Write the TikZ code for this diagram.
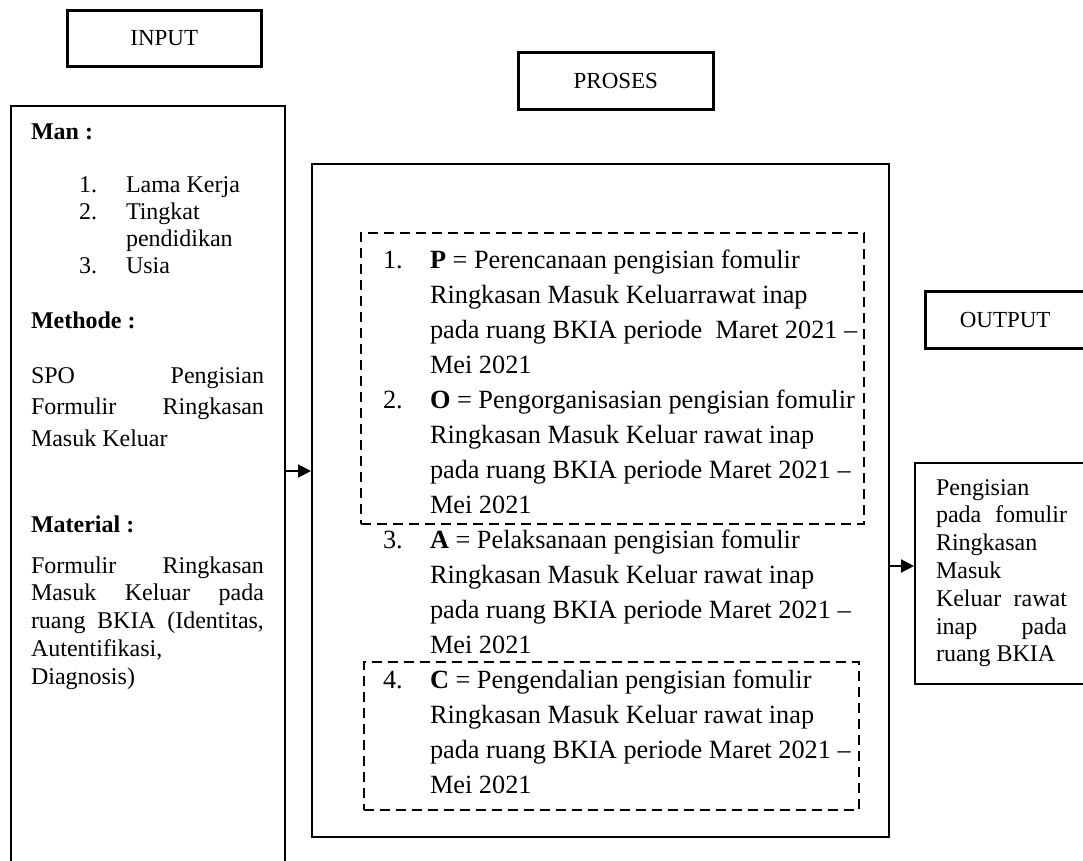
\documentclass[tikz,border=0pt]{standalone}
\usepackage{fontspec}
\setmainfont{Liberation Serif}
\usetikzlibrary{arrows.meta}
\newcommand{\blok}[2]{\begin{minipage}[t]{#1}#2\end{minipage}}

\begin{document}
\begin{tikzpicture}[x=1pt,y=-1pt,line width=2pt,>={Triangle[length=13pt,width=13pt]},
    box/.style={draw,rectangle,anchor=north west,inner sep=0pt},
    labelbox/.style={box,line width=2.6pt,font=\fontsize{23}{27}\selectfont},
    dashbox/.style={box,line width=1.8pt,dash pattern=on 10pt off 6pt},
    txt/.style={anchor=base west,inner sep=0pt,font=\fontsize{24}{27}\selectfont},
    proc/.style={txt,font=\fontsize{26.3}{35}\selectfont}]
  \useasboundingbox (0,0) rectangle (1083,861);
  \clip (0,0) rectangle (1083,861);
  % judul
  \node[labelbox,minimum width=194pt,minimum height=56pt] (input) at (66,9) {INPUT};
  \node[labelbox,minimum width=195pt,minimum height=57pt] (proses) at (517,51) {PROSES};
  \node[labelbox,minimum width=200pt,minimum height=57pt,text width=159pt,align=left] (output) at (924,290) {\hspace*{14pt}OUTPUT};
  % kotak input
  \node[box,minimum width=274pt,minimum height=780pt] (inbox) at (10,105) {};
  \node[txt] (man) at (30,140) {\textbf{Man :}};
  \node[txt] (man1) at (78,193) {1.};
  \node[txt] (man1t) at (125,193) {Lama Kerja};
  \node[txt] (man2) at (78,219) {2.};
  \node[txt] (man2t) at (125,219) {\blok{140pt}{Tingkat\\pendidikan}};
  \node[txt] (man3) at (78,273) {3.};
  \node[txt] (man3t) at (125,273) {Usia};
  \node[txt] (methode) at (30,328) {\textbf{Methode :}};
  \node[txt,font=\fontsize{24}{31.5}\selectfont] (methodet) at (30,383)
    {\blok{233pt}{SPO\hfill Pengisian\\Formulir\hfill Ringkasan\\Masuk Keluar}};
  \node[txt] (material) at (30,532) {\textbf{Material :}};
  \node[txt,font=\fontsize{24}{27.8}\selectfont] (materialt) at (30,573)
    {\blok{233pt}{Formulir\hfill Ringkasan\\Masuk\hfill Keluar\hfill pada\\ruang\hfill BKIA\hfill (Identitas,\\Autentifikasi,\\Diagnosis)}};
  % kotak proses
  \node[box,minimum width=577pt,minimum height=673pt] (procbox) at (311,163) {};
  \node[dashbox,minimum width=503pt,minimum height=291pt] (poa) at (360,232) {};
  \node[dashbox,minimum width=495pt,minimum height=148pt] (pc) at (363,661) {};
  \node[proc] (p1) at (382,268) {1.};
  \node[proc] (p1t) at (429,268) {\blok{440pt}{\textbf{P} = Perencanaan pengisian fomulir\\Ringkasan Masuk Keluarrawat inap\\pada ruang BKIA periode\ \ Maret 2021 –\\Mei 2021}};
  \node[proc] (p2) at (382,408) {2.};
  \node[proc] (p2t) at (429,408) {\blok{440pt}{\textbf{O} = Pengorganisasian pengisian fomulir\\Ringkasan Masuk Keluar rawat inap\\pada ruang BKIA periode Maret 2021 –\\Mei 2021}};
  \node[proc] (p3) at (382,548) {3.};
  \node[proc] (p3t) at (429,548) {\blok{440pt}{\textbf{A} = Pelaksanaan pengisian fomulir\\Ringkasan Masuk Keluar rawat inap\\pada ruang BKIA periode Maret 2021 –\\Mei 2021}};
  \node[proc] (p4) at (382,688) {4.};
  \node[proc] (p4t) at (429,688) {\blok{440pt}{\textbf{C} = Pengendalian pengisian fomulir\\Ringkasan Masuk Keluar rawat inap\\pada ruang BKIA periode Maret 2021 –\\Mei 2021}};
  % kotak output
  \node[box,minimum width=181pt,minimum height=221pt] (outbox) at (914,462) {};
  \node[txt,font=\fontsize{24}{27.8}\selectfont] (outt) at (935,495)
    {\blok{131pt}{Pengisian\\pada\hfill fomulir\\Ringkasan\\Masuk\\Keluar\hfill rawat\\inap\hfill pada\\ruang BKIA}};
  % panah
  \coordinate (inarr) at (0,471);
  \coordinate (outarr) at (0,566);
  \draw[->] (inbox.east |- inarr) -- (procbox.west |- inarr);
  \draw[->] (procbox.east |- outarr) -- (outbox.west |- outarr);
\end{tikzpicture}
\end{document}
